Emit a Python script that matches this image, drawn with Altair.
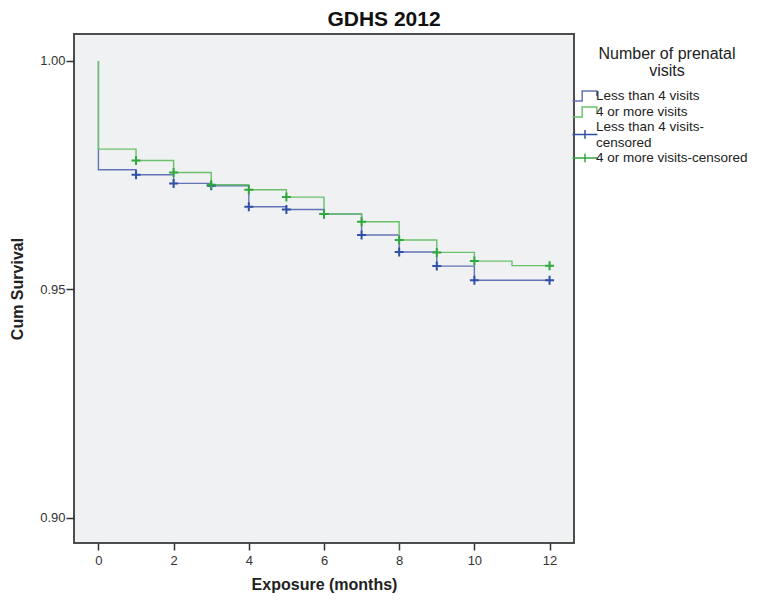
import altair as alt
import pandas as pd

# ---- data ----
line_names = ["Less than 4 visits", "4 or more visits"]
cens_less4_name = ["Less than 4 visits-censored"]
cens_4plus_name = ["4 or more visits-censored"]

times = [0, 0, 1, 2, 3, 4, 5, 6, 7, 8, 9, 10, 11, 12]
surv_less4 = [1.0, 0.9762, 0.9751, 0.9732, 0.9727, 0.9681, 0.9675, 0.9665,
              0.9619, 0.9582, 0.9551, 0.9520, 0.9520, 0.9520]
surv_4plus = [1.0, 0.9807, 0.9782, 0.9756, 0.9729, 0.9718, 0.9702, 0.9665,
              0.9648, 0.9608, 0.9581, 0.9562, 0.9552, 0.9552]

cens_times = [1, 2, 3, 4, 5, 6, 7, 8, 9, 10, 12]
cens_less4 = [0.9751, 0.9732, 0.9727, 0.9681, 0.9675, 0.9665, 0.9619,
              0.9582, 0.9551, 0.9520, 0.9520]
cens_4plus = [0.9782, 0.9756, 0.9729, 0.9718, 0.9702, 0.9665, 0.9648,
              0.9608, 0.9581, 0.9562, 0.9552]

x_ticks = [0, 2, 4, 6, 8, 10, 12]
y_ticks = [0.90, 0.95, 1.00]

# ---- tables ----
rows = []
for name, vals in [(line_names[0], surv_less4), (line_names[1], surv_4plus)]:
    for i, (t, s) in enumerate(zip(times, vals)):
        rows.append({"t": t, "s": s, "series": name, "idx": i})
lines_df = pd.DataFrame(rows)

pts_blue = pd.DataFrame({"t": cens_times, "s": cens_less4,
                         "series": cens_less4_name * len(cens_times)})
pts_green = pd.DataFrame({"t": cens_times, "s": cens_4plus,
                          "series": cens_4plus_name * len(cens_times)})

FONT = "Liberation Sans"
line_colors = ["#6373b8", "#69c26b"]
blue_mark = "#3050a8"
green_mark = "#2fa83c"

# legend glyphs (trailing move-to widens the entry box so the title centres over the block)
step_path = "M-2,0.8H-0.45V-0.8H1.9V0.0M28,0"
plus_leg = "M-2,0H2M0,-0.7V0.7"
plus_leg_low = "M-2,1.2H2M0,0.5V1.9"

common_leg = dict(
    orient="none", legendX=498,
    labelFont=FONT, labelFontSize=13.5, labelColor="#222", labelOffset=4,
    labelLimit=300, symbolSize=156, symbolOffset=6, rowPadding=0, padding=0,
    symbolStrokeWidth=1.5, symbolFillColor="transparent",
)

legend_lines = alt.Legend(
    title=["Number of prenatal", "visits"], legendY=12,
    titleFont=FONT, titleFontSize=16, titleFontWeight="normal", titleColor="#222",
    titleAnchor="middle", titleAlign="center", titleLineHeight=17, titlePadding=10,
    symbolType=step_path, **common_leg,
)
legend_blue = alt.Legend(
    title=None, legendY=86, symbolType=plus_leg_low,
    labelExpr="['Less than 4 visits-', 'censored']",
    **common_leg,
)
legend_green = alt.Legend(
    title=None, legendY=117, symbolType=plus_leg, **common_leg,
)

x_enc = alt.X("t:Q",
              scale=alt.Scale(domain=[-0.65, 12.65], nice=False, zero=False),
              axis=alt.Axis(values=x_ticks, title="Exposure (months)", format="d",
                            grid=False, domain=False, tickSize=7, tickWidth=1.5,
                            tickColor="#333", labelFont=FONT, labelFontSize=13,
                            labelColor="#333", labelPadding=4,
                            titleFont=FONT, titleFontSize=16, titleFontWeight="bold",
                            titleColor="#222", titlePadding=9))
y_enc = alt.Y("s:Q",
              scale=alt.Scale(domain=[0.8945, 1.0059], nice=False, zero=False),
              axis=alt.Axis(values=y_ticks, title="Cum Survival", format=".2f",
                            grid=False, domain=False, tickSize=8, tickWidth=1.5,
                            tickColor="#333", labelFont=FONT, labelFontSize=13,
                            labelColor="#333", labelPadding=1,
                            titleFont=FONT, titleFontSize=16, titleFontWeight="bold",
                            titleColor="#222", titlePadding=14))

lines = alt.Chart(lines_df).mark_line(interpolate="step-after", strokeWidth=1.4).encode(
    x=x_enc, y=y_enc,
    color=alt.Color("series:N", scale=alt.Scale(domain=line_names, range=line_colors),
                    legend=legend_lines),
    order="idx:Q",
)

plus_mark = dict(shape="M-1,0H1M0,-1V1", size=81, filled=False, strokeWidth=2, opacity=1)

points_blue = alt.Chart(pts_blue).mark_point(**plus_mark).encode(
    x="t:Q", y="s:Q",
    color=alt.Color("series:N", scale=alt.Scale(domain=cens_less4_name, range=[blue_mark]),
                    legend=legend_blue),
)
points_green = alt.Chart(pts_green).mark_point(**plus_mark).encode(
    x="t:Q", y="s:Q",
    color=alt.Color("series:N", scale=alt.Scale(domain=cens_4plus_name, range=[green_mark]),
                    legend=legend_green),
)

chart = alt.layer(lines, points_blue, points_green).resolve_scale(color="independent").properties(
    width=500, height=509,
    background="white",
    autosize=alt.AutoSizeParams(type="none"),
    padding={"left": 66, "top": 26, "right": 179, "bottom": 51},
    title=alt.Title("GDHS 2012", font=FONT, fontSize=21, fontWeight="bold",
                    color="#111", anchor="middle", dx=60, offset=4),
).configure_view(
    fill="#f0f1f3", stroke="#4d4d4d", strokeWidth=2
)

chart.save("out.html", embed_options={"renderer": "svg", "actions": False})
